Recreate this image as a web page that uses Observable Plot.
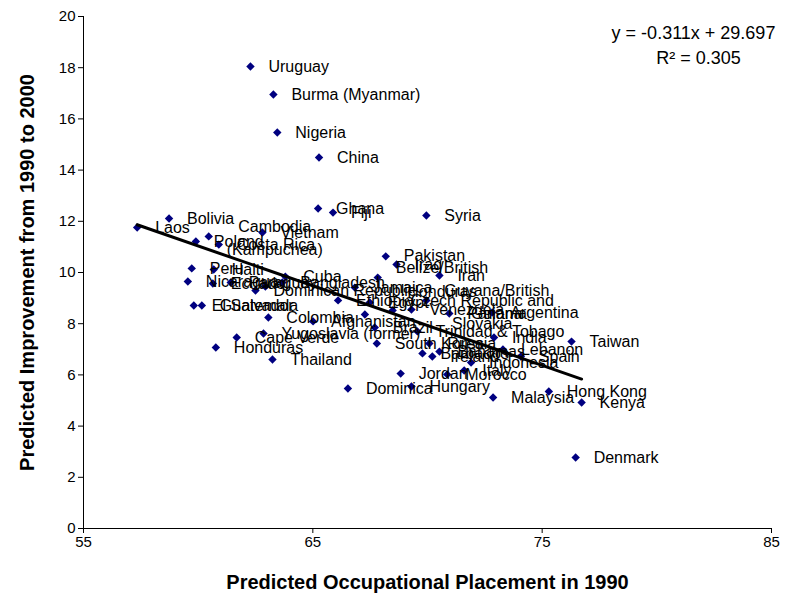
<!DOCTYPE html>
<html><head><meta charset="utf-8">
<script src="https://cdn.jsdelivr.net/npm/d3@7"></script>
<script src="https://cdn.jsdelivr.net/npm/@observablehq/plot@0.6"></script>
<style>body{margin:0;background:#fff;} #chart svg{display:block;}</style>
</head><body><div id="chart"></div>
<script>
const countries = [
 "Uruguay","Burma (Myanmar)","Nigeria","China","Ghana","Fiji","Syria","Laos","Bolivia",
 "Cambodia\n(Kampuchea)","Vietnam","Poland","Costa Rica","Peru","Haiti","Nicaragua","Ecuador","Paraguay",
 "El Salvador","Guatemala","Cuba","Bangladesh","Dominican Republic","","Jamaica","Ethiopia","Colombia",
 "Afghanistan","","Yugoslavia (former)","Cape Verde","Honduras","Thailand","Dominica","Pakistan",
 "Belize/British\nHonduras","Iraq","Iran","Guyana/British\nGuiana","Czech Republic and\nSlovakia","Egypt",
 "Venezuela","Panama","Argentina","Brazil","Trinidad & Tobago","India","South Korea","Russia","Barbados",
 "Ireland","Bahamas","Lebanon","Spain","Indonesia","Italy","Jordan","Morocco","Hungary","Malaysia",
 "Hong Kong","Kenya","Taiwan","Denmark"
];
const placement1990 = [
 62.28,63.28,63.45,65.27,65.23,65.88,69.95,57.34,58.73,
 60.46,62.80,59.90,60.90,59.72,60.68,59.55,60.64,61.42,
 59.81,60.16,63.80,63.67,62.50,62.93,66.83,66.10,63.06,
 65.01,67.27,62.85,61.68,60.77,63.24,66.53,68.18,
 67.83,68.65,70.52,69.95,68.48,67.48,
 69.30,70.95,72.82,67.70,69.56,72.90,67.79,70.08,69.78,
 70.21,70.52,73.29,74.07,71.90,71.60,68.83,70.86,69.30,72.86,
 75.29,76.72,76.28,76.46
];
const improvement2000 = [
 18.05,16.95,15.47,14.49,12.50,12.34,12.23,11.76,12.11,
 11.41,11.56,11.21,11.09,10.16,10.12,9.65,9.57,9.61,
 8.71,8.71,9.84,9.61,9.30,9.45,9.41,8.91,8.24,
 8.09,8.36,7.62,7.46,7.07,6.60,5.47,10.63,
 9.80,10.31,9.88,8.91,8.52,8.83,
 8.55,8.40,8.44,7.85,7.70,7.46,7.23,7.23,6.84,
 6.72,6.91,6.99,6.72,6.48,6.17,6.05,6.02,5.55,5.12,
 5.35,4.92,7.30,2.77
];
const xTicks = [55, 65, 75, 85];
const yTicks = [0, 2, 4, 6, 8, 10, 12, 14, 16, 18, 20];
const slope = -0.311, intercept = 29.697, rSquared = 0.305;
const xTitle = "Predicted Occupational Placement in 1990";
const yTitle = "Predicted Improvement from 1990 to 2000";
const eqText = `y = ${slope}x + ${intercept}`;
const r2Text = `R² = ${rSquared}`;

const font = "'Liberation Sans', Arial, sans-serif";
const data = countries.map((c, i) => ({name: c, x: placement1990[i], y: improvement2000[i]}));
const single = data.filter(d => !d.name.includes("\n"));
const multi = data.filter(d => d.name.includes("\n"));
const ctx = document.createElement("canvas").getContext("2d");
ctx.font = "16px 'Liberation Sans'";
const xExt = d3.extent(placement1990);
const trend = xExt.map(x => ({x, y: slope * x + intercept}));

const chart = Plot.plot({
  width: 797, height: 598,
  marginLeft: 83, marginRight: 26, marginTop: 16, marginBottom: 70,
  x: {domain: [xTicks[0], xTicks[xTicks.length - 1]]},
  y: {domain: [yTicks[0], yTicks[yTicks.length - 1]]},
  style: {fontFamily: font, fontSize: "15px", color: "#000", background: "#fff", overflow: "visible"},
  marks: [
    Plot.axisX({ticks: xTicks, tickSize: 5, tickPadding: 3, label: null, fontSize: 15}),
    Plot.axisY({ticks: yTicks, tickSize: 5, tickPadding: 3, label: null, fontSize: 15}),
    Plot.ruleX([xTicks[0]], {stroke: "#000", strokeWidth: 1}),
    Plot.ruleY([yTicks[0]], {stroke: "#000", strokeWidth: 1}),
    Plot.dot(data, {x: "x", y: "y", symbol: "diamond2", r: 3.8, fill: "#000080", stroke: "none"}),
    Plot.line(trend, {x: "x", y: "y", stroke: "#000", strokeWidth: 3}),
    Plot.text(single, {x: "x", y: "y", text: "name", textAnchor: "start", dx: 18, fontSize: 16, fill: "#000"}),
    ...multi.map(d => {
      const w = d3.max(d.name.split("\n"), s => ctx.measureText(s).width);
      return Plot.text([d], {x: "x", y: "y", text: "name", textAnchor: "middle", dx: 18 + w / 2,
        fontSize: 16, lineHeight: 1.45, fill: "#000"});
    }),
    Plot.text([eqText], {frameAnchor: "top-right", text: d => d, textAnchor: "middle", lineAnchor: "middle",
      dx: -78, dy: 17, fontSize: 18, fill: "#000"}),
    Plot.text([r2Text], {frameAnchor: "top-right", text: d => d, textAnchor: "middle", lineAnchor: "middle",
      dx: -73, dy: 42, fontSize: 18, fill: "#000"}),
    Plot.text([xTitle], {frameAnchor: "bottom", text: d => d, textAnchor: "middle", lineAnchor: "middle", dy: 54,
      fontSize: 20, fontWeight: "bold", fill: "#000"}),
    Plot.text([yTitle], {frameAnchor: "left", text: d => d, rotate: -90, textAnchor: "middle", lineAnchor: "middle", dx: -56,
      fontSize: 20, fontWeight: "bold", fill: "#000"})
  ]
});
document.getElementById("chart").appendChild(chart);
</script>
</body></html>
